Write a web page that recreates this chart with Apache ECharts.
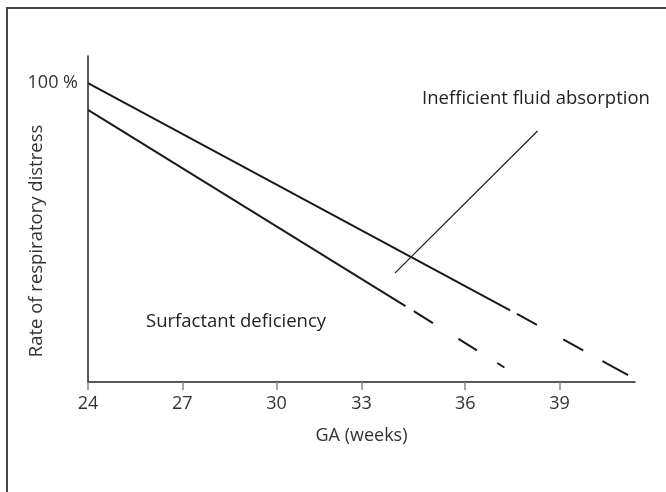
<!DOCTYPE html>
<html>
<head>
<meta charset="utf-8">
<script src="https://cdn.jsdelivr.net/npm/echarts@6/dist/echarts.min.js"></script>
<style>
  html, body { margin: 0; padding: 0; background: #fff; }
  #container { width: 666px; height: 492px; }
</style>
</head>
<body>
<div id="container"></div>
<script>
// weeks of gestation / rate (%)
var fluidSolid = [[24, 100], [37.43, 24]];
var fluidDashed = [[37.43, 24], [41.2, 2.2]];
var surfSolid = [[24, 91.1], [34.1, 25.4]];
var surfDashed = [[34.1, 25.4], [37.27, 4.7]];
var leader = [[33.77, 36.5], [38.3, 84]];
var xTickValues = [24, 27, 30, 32.7, 36, 39];
var xTickLabels = ['24', '27', '30', '33', '36', '39'];

var FONT = '"Open Sans", sans-serif';
var INK = '#1a1a1a';

var chart = echarts.init(document.getElementById('container'));

var option = new Object();
option.animation = false;
option.grid = { left: 88, right: 31, top: 56, bottom: 110 };
option.xAxis = {
  type: 'value', min: 24, max: 41.4,
  name: 'GA (weeks)', nameLocation: 'middle', nameGap: 45,
  nameTextStyle: { fontFamily: FONT, fontSize: 18, color: '#333' },
  axisLine: { lineStyle: { color: '#222', width: 1.5 } },
  axisTick: { show: true, length: 8, customValues: xTickValues, lineStyle: { color: '#888', width: 1.5 } },
  axisLabel: {
    customValues: xTickValues, margin: 13,
    fontFamily: FONT, fontSize: 18, color: '#333',
    formatter: function (v) { return xTickLabels[xTickValues.indexOf(v)]; }
  },
  splitLine: { show: false }
};
option.yAxis = {
  type: 'value', min: 0, max: 109.1,
  axisLine: { show: true, lineStyle: { color: '#222', width: 1.5 } },
  axisTick: { show: false },
  axisLabel: {
    customValues: [100], margin: 10,
    fontFamily: FONT, fontSize: 18, color: '#333',
    formatter: function (v) { return v + ' %'; }
  },
  splitLine: { show: false }
};

function solid(data) {
  return { type: 'line', data: data, symbol: 'none', silent: true,
    lineStyle: { color: INK, width: 2 } };
}
function dashed(data, pattern, offset) {
  return { type: 'line', data: data, symbol: 'none', silent: true,
    lineStyle: { color: INK, width: 2, type: pattern, dashOffset: offset } };
}

var fluidDash = dashed(fluidDashed, [22.8, 30, 22.8, 22, 29.2, 7.7], 126.8);
var surfDash = dashed(surfDashed, [22.6, 30, 21.8, 23.8, 8.5, 9.7], 106.7);

var fluidLine = solid(fluidSolid);
fluidLine.markLine = {
  silent: true, symbol: 'none', label: { show: false },
  lineStyle: { color: INK, width: 1.2, type: 'solid' },
  data: [[{ coord: leader[0] }, { coord: leader[1] }]]
};

option.series = [fluidLine, fluidDash, solid(surfSolid), surfDash];

option.graphic = [
  { type: 'rect', silent: true, shape: { x: 7, y: 8, width: 700, height: 600 },
    style: { fill: 'none', stroke: '#444', lineWidth: 2 } },
  { type: 'text', x: 37, y: 241, rotation: Math.PI / 2, silent: true,
    style: { text: 'Rate of respiratory distress', font: '18.5px "Open Sans", sans-serif',
      fill: '#333', align: 'center', verticalAlign: 'middle' } },
  { type: 'text', left: 422, top: 89, silent: true,
    style: { text: 'Inefficient fluid absorption', font: '18.5px "Open Sans", sans-serif', fill: '#222' } },
  { type: 'text', left: 146, top: 312, silent: true,
    style: { text: 'Surfactant deficiency', font: '18.5px "Open Sans", sans-serif', fill: '#222' } }
];

chart.setOption(option);
</script>
</body>
</html>
